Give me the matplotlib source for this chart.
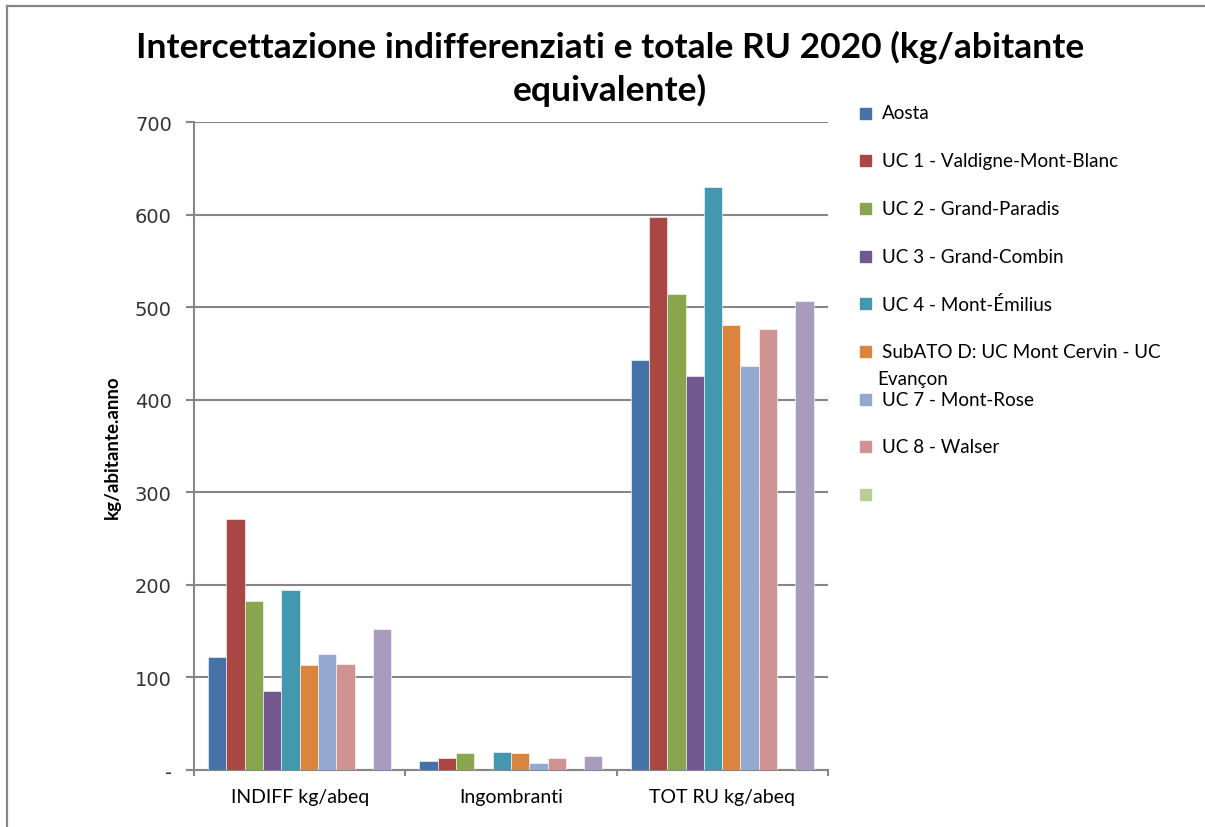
import numpy as np
import matplotlib
matplotlib.use("Agg")
import matplotlib.pyplot as plt
from matplotlib.lines import Line2D
from matplotlib.patches import Rectangle

plt.rcParams['font.family'] = ['Lato', 'DejaVu Sans']

## DATA
categories = ['INDIFF kg/abeq', 'Ingombranti', 'TOT RU kg/abeq']
series = ['Aosta', 'UC 1 - Valdigne-Mont-Blanc', 'UC 2 - Grand-Paradis',
          'UC 3 - Grand-Combin', 'UC 4 - Mont-Émilius',
          'SubATO D: UC Mont Cervin - UC\nEvançon', 'UC 7 - Mont-Rose',
          'UC 8 - Walser', '', '']
colors = ['#4572A7', '#AA4643', '#89A54E', '#71588F', '#4198AF',
          '#DB843D', '#93A9CF', '#D19392', '#B9CD96', '#A99BBD']
# one row per series: INDIFF, Ingombranti, TOT RU
values = [
    [122.0, 10.0, 443.0],   # Aosta
    [271.0, 13.5, 597.0],   # UC 1
    [182.5, 18.0, 514.0],   # UC 2
    [85.0, 0.0, 426.0],     # UC 3
    [194.5, 20.0, 630.0],   # UC 4
    [113.5, 18.0, 481.0],   # SubATO D
    [125.0, 8.0, 436.0],    # UC 7
    [114.5, 13.5, 476.0],   # UC 8
    [0.0, 0.0, 0.0],        # (empty series)
    [152.5, 15.0, 507.0],   # last series, not in legend
]
n_legend = 9
yticks = [0, 100, 200, 300, 400, 500, 600, 700]
ytick_labels = ['-', '100', '200', '300', '400', '500', '600', '700']
title_lines = ['Intercettazione indifferenziati e totale RU 2020 (kg/abitante',
               'equivalente)']

## FIGURE
fig = plt.figure(figsize=(12.05, 8.28), dpi=100)
ax = fig.add_axes([0.161, 0.0688, 0.526, 0.7826])
grey = '#868686'
W, H = 1205, 828

x = np.arange(len(categories))
w = 0.0866
for i, vals in enumerate(values):
    ax.bar(x + (i - 4.5) * w, vals, width=w, color=colors[i],
           edgecolor='white', linewidth=0.4, zorder=3)

ax.set_xlim(-0.5, 2.5)
ax.set_ylim(0, 700)
ax.set_yticks(yticks)
ax.set_yticklabels(ytick_labels, fontfamily='DejaVu Sans', fontsize=14,
                   color='#333333')
ax.set_xticks(x)
ax.set_xticklabels(categories, fontsize=14)
ax.set_xticks([-0.5, 0.5, 1.5, 2.5], minor=True)
ax.tick_params(axis='x', which='major', length=0, pad=13)
ax.tick_params(axis='x', which='minor', length=4, width=1.5, color=grey,
               direction='out')
ax.tick_params(axis='y', length=6, width=1.5, color=grey, pad=10)
ax.grid(axis='y', color=grey, linewidth=1.5, zorder=0)
for s in ['top', 'right']:
    ax.spines[s].set_visible(False)
for s in ['left', 'bottom']:
    ax.spines[s].set_color(grey)
    ax.spines[s].set_linewidth(1.5)
ax.set_ylabel('kg/abitante.anno', fontsize=13.5, fontweight='bold',
              labelpad=10)

# title as two separate lines, as in the original
for k, line in enumerate(title_lines):
    fig.text(0.506, 1 - (47 + 43 * k) / H, line, ha='center', va='center',
             fontsize=25.5, fontweight='bold')

## LEGEND (drawn by hand to keep Excel's spacing)
for i in range(n_legend):
    yc = 114 + i * 47.7
    fig.add_artist(Rectangle(((860) / W, 1 - (yc + 5.5) / H), 11 / W, 11 / H,
                             transform=fig.transFigure, color=colors[i]))
    lines = series[i].split('\n')
    for k, line in enumerate(lines):
        fig.text((882 - 5 * (k > 0)) / W, 1 - (yc + 27 * k) / H, line,
                 ha='left', va='center', fontsize=13.6)

## OUTER FRAME
fig.add_artist(Line2D([7 / W, 1.0], [1 - 6.5 / H, 1 - 6.5 / H],
                      transform=fig.transFigure, color=grey, linewidth=1.6))
fig.add_artist(Line2D([7 / W, 7 / W], [0.0, 1 - 6.5 / H],
                      transform=fig.transFigure, color=grey, linewidth=1.6))

fig.savefig('out.png', dpi=100)
